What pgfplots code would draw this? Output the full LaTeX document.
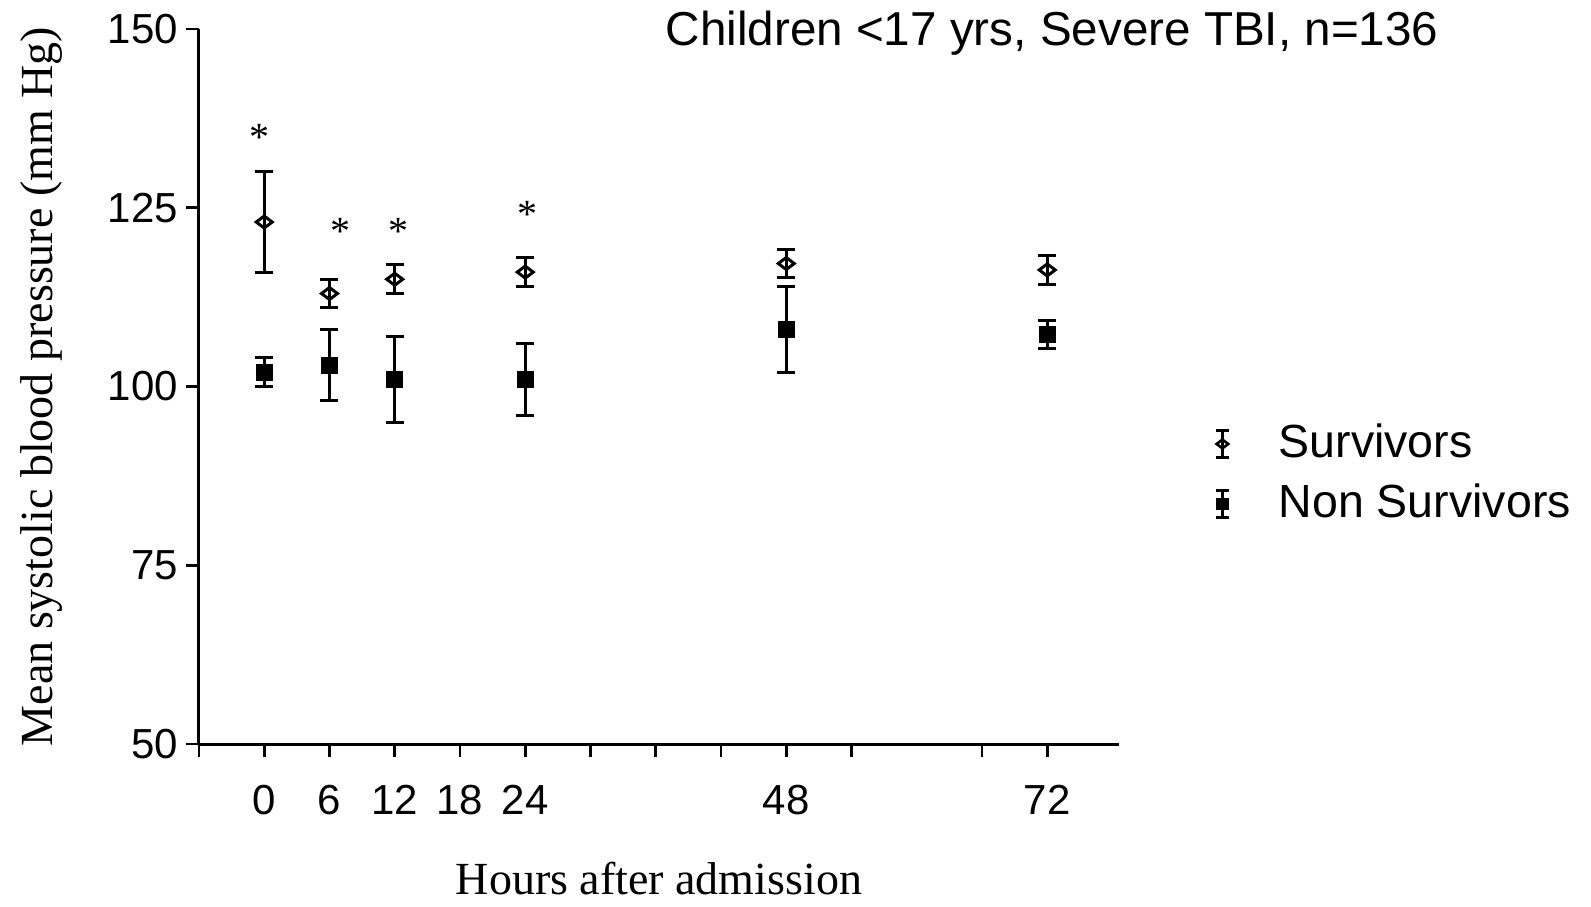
\documentclass[border=0pt]{standalone}
\usepackage{fontspec}
\setmainfont{Liberation Sans}
\newfontfamily\seriffont{Liberation Serif}
\usepackage{pgfplots}
\pgfplotsset{compat=1.18}
\begin{document}
\begin{tikzpicture}
\useasboundingbox (-99.5pt,-81pt) rectangle (696pt,372pt);
\begin{axis}[
  at={(0pt,0pt)}, anchor=south west,
  scale only axis, width=460pt, height=357.5pt,
  xmin=-6, xmax=78.6, ymin=50, ymax=150,
  axis x line*=bottom, axis y line*=left,
  axis line style={line width=1.5pt, black},
  tick align=outside, major tick length=6.5pt,
  tick style={line width=1.4pt, black},
  xtick={0,6,12,18,24,48,72},
  extra x ticks={-6,30,36,42,54,66},
  extra x tick labels={},
  extra x tick style={tick style={line width=1.4pt, black}},
  ytick={50,75,100,125,150},
  /pgf/number format/assume math mode=true,
  tick label style={font=\fontsize{21pt}{25pt}\selectfont},
  xticklabel shift=10.5pt,
  yticklabel shift=0.5pt,
  xlabel={Hours after admission},
  ylabel={Mean systolic blood pressure (mm Hg)},
  x label style={at={(axis description cs:0.5,-0.2105)}, anchor=base, inner sep=0pt, font=\seriffont\fontsize{23pt}{27pt}\selectfont},
  y label style={at={(axis description cs:-0.1587,0.5)}, anchor=base, font=\seriffont\fontsize{23pt}{27pt}\selectfont},
  title={Children <17 yrs, Severe TBI, n=136},
  every axis title shift=0pt,
  title style={at={(axis description cs:0.9272,0.9766)}, anchor=base, yshift=0pt, font=\fontsize{23.8pt}{28pt}\selectfont},
  legend style={at={(axis description cs:1.1011,0.4476)}, anchor=north west, draw=none, fill=none,
    inner sep=0pt, outer sep=0pt, column sep=23pt, row sep=10pt,
    font=\fontsize{23.25pt}{28pt}\selectfont,
    nodes={inner sep=0pt, text height=17pt, text depth=3pt}},
  legend cell align=left,
]
\addplot[black, only marks, mark=diamond, mark size=4pt,
  mark options={rotate=90, line width=1.5pt, fill=none, draw=black},
  error bars/.cd, y dir=both, y explicit,
  error bar style={line width=1.5pt, black},
  error mark options={rotate=90, mark size=4.5pt, line width=1.5pt, black},
  /pgfplots/legend image code/.code={
    \draw[line width=1.3pt, black] (0pt,-6.75pt)--(0pt,6.75pt) (-3.25pt,-6.75pt)--(3.25pt,-6.75pt) (-3.25pt,6.75pt)--(3.25pt,6.75pt);
    \draw[black, line width=1.3pt] plot[only marks, mark=diamond, mark size=2.9pt, mark options={rotate=90}] coordinates {(0pt,0pt)};
    \path (-5pt,0pt) (5pt,0pt);
  }]
coordinates {
(0,123) +- (0,7)
(6,113) +- (0,2)
(12,115) +- (0,2)
(24,116) +- (0,2)
(48,117.2) +- (0,2)
(72,116.3) +- (0,2)
};
\addlegendentry{Survivors}
\addplot[black, only marks, mark=square*, mark size=4pt,
  mark options={line width=0.5pt, fill=black, draw=black},
  error bars/.cd, y dir=both, y explicit,
  error bar style={line width=1.5pt, black},
  error mark options={rotate=90, mark size=4.5pt, line width=1.5pt, black},
  /pgfplots/legend image code/.code={
    \draw[line width=1.3pt, black] (0pt,-6.75pt)--(0pt,6.75pt) (-3.25pt,-6.75pt)--(3.25pt,-6.75pt) (-3.25pt,6.75pt)--(3.25pt,6.75pt);
    \draw[black, fill=black, line width=0.5pt] plot[only marks, mark=square*, mark size=2.9pt] coordinates {(0pt,0pt)};
    \path (-5pt,0pt) (5pt,0pt);
  }]
coordinates {
(0,102) +- (0,2)
(6,103) +- (0,5)
(12,101) +- (0,6)
(24,101) +- (0,5)
(48,108) +- (0,6)
(72,107.3) +- (0,2)
};
\addlegendentry{Non Survivors}
\addplot[forget plot, only marks, mark=none,
  nodes near coords={\seriffont\fontsize{20pt}{22pt}\selectfont *},
  every node near coord/.style={anchor=center, inner sep=0pt}]
coordinates {(-0.46,134.9) (7.0,121.7) (12.33,121.7) (24.2,124.1)};
\end{axis}
\end{tikzpicture}
\end{document}
